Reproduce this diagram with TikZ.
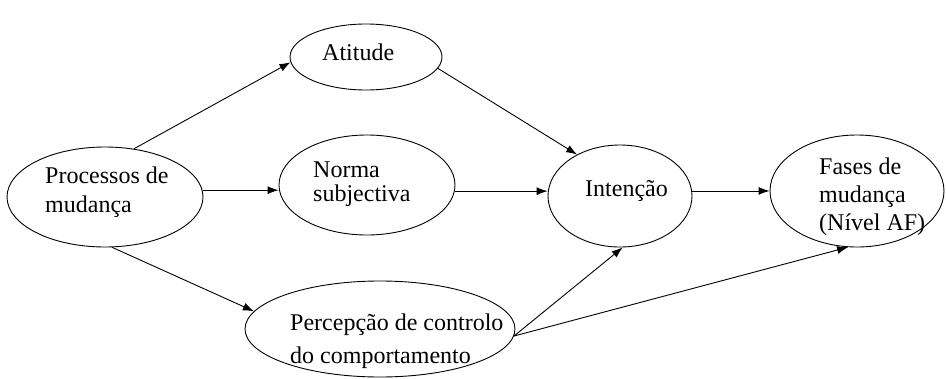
\documentclass[tikz,border=0pt]{standalone}
\usepackage{fontspec}
\setmainfont{Liberation Serif}
\usetikzlibrary{shapes.geometric,arrows.meta}
\begin{document}
\begin{tikzpicture}[x=1pt,y=-1pt,
  oval/.style={draw=black,line width=0.9pt,ellipse,inner sep=0pt},
  lbl/.style={anchor=base west,align=left,inner sep=0pt,font=\fontsize{24}{28}\selectfont},
  arr/.style={draw=black,line width=0.9pt,-{Latex[length=11pt,width=8pt]}}]
\useasboundingbox (0,0) rectangle (946,378);
\node[oval,minimum width=196pt,minimum height=100pt] (proc) at (105,197) {};
\node[oval,minimum width=152pt,minimum height=66pt] (att) at (366,57) {};
\node[oval,minimum width=176pt,minimum height=100pt] (norma) at (367,185) {};
\node[oval,minimum width=144pt,minimum height=102pt] (int) at (620,196) {};
\node[oval,minimum width=174pt,minimum height=112pt] (fases) at (857,191) {};
\node[oval,minimum width=270pt,minimum height=96pt] (perc) at (380,329) {};
\node[lbl] (tproc) at (45,212) {Processos de\\[1pt]mudança};
\node[lbl] (tatt) at (322,60) {Atitude};
\node[lbl] (tnorma) at (313,201) {Norma\\[-4pt]subjectiva};
\node[lbl] (tint) at (585,196) {Intenção};
\node[lbl] (tfases) at (819,230) {Fases de\\mudança\\(Nível AF)};
\node[lbl] (tperc) at (290,363) {Percepção de controlo\\[5pt]do comportamento};
\draw[arr] (proc.59) -- (att.184);
\draw[arr] (att.-9) -- (int.136);
\draw[arr] (proc.4) -- (proc.4 -| norma.west);
\draw[arr] (norma.-4) -- (norma.-4 -| int.west);
\draw[arr] (int.4) -- (int.4 -| fases.west);
\draw[arr] (proc.-82) -- (perc.172);
\draw[arr] (perc.-3) -- (int.273);
\draw[arr] (perc.-3) -- (fases.261);
\end{tikzpicture}
\end{document}
